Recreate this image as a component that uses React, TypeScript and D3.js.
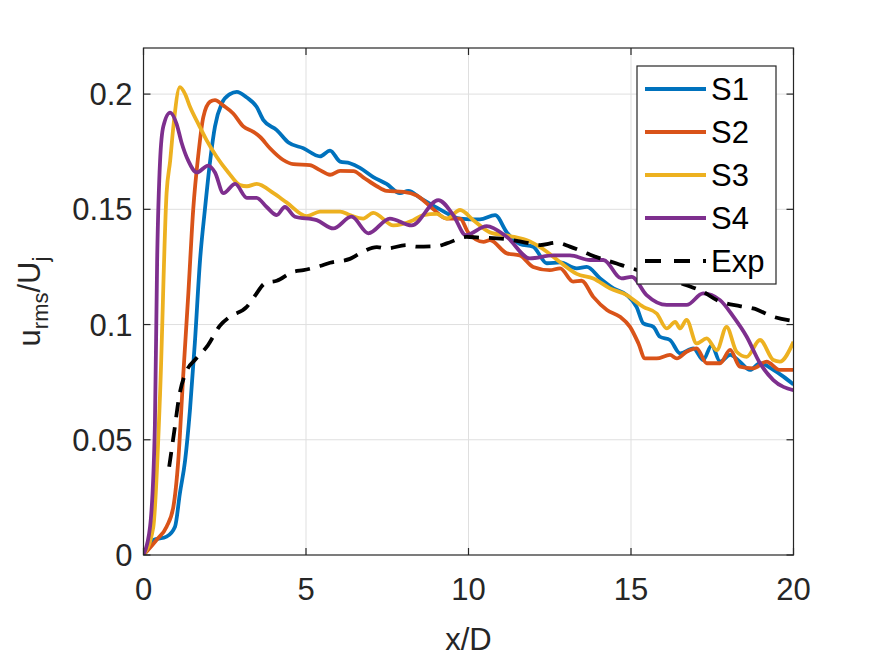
import * as d3 from 'd3';

const s1X = [0, 0.3, 0.71, 0.97, 1.12, 1.28, 1.43, 1.58, 1.74, 1.89, 2.05, 2.2, 2.41, 2.66, 2.87, 3.18, 3.48, 3.69, 4.1, 4.46, 4.92, 5.43, 5.74, 6.05, 6.35, 6.66, 7.07, 7.48, 7.89, 8.15, 8.51, 9.12, 9.74, 10.35, 10.82, 11.18, 11.58, 11.99, 12.41, 12.82, 13.33, 13.64, 14.05, 14.46, 14.87, 15.17, 15.38, 15.69, 15.89, 16.2, 16.51, 16.92, 17.22, 17.48, 17.74, 18.05, 18.35, 18.66, 18.97, 19.38, 19.69, 20];
const s1Y = [0, 0.0065, 0.008, 0.0123, 0.0268, 0.041, 0.063, 0.092, 0.128, 0.15, 0.171, 0.186, 0.196, 0.2, 0.201, 0.1985, 0.1945, 0.1887, 0.1844, 0.179, 0.1765, 0.173, 0.1755, 0.1707, 0.17, 0.168, 0.164, 0.161, 0.157, 0.158, 0.155, 0.15, 0.146, 0.1456, 0.1475, 0.14, 0.135, 0.1338, 0.1266, 0.127, 0.1244, 0.125, 0.12, 0.1157, 0.1128, 0.1077, 0.1005, 0.099, 0.0947, 0.0933, 0.0875, 0.0897, 0.0846, 0.091, 0.0839, 0.0868, 0.0839, 0.0803, 0.0832, 0.0803, 0.0774, 0.074];

const s2X = [0, 0.4, 0.71, 0.92, 1.07, 1.22, 1.38, 1.53, 1.69, 1.84, 2.05, 2.2, 2.46, 2.76, 3.07, 3.38, 3.58, 3.89, 4.3, 4.61, 5.12, 5.43, 5.74, 6.05, 6.46, 6.76, 7.18, 7.48, 8.0, 8.41, 8.92, 9.33, 9.74, 9.99, 10.46, 10.66, 11.18, 11.58, 11.99, 12.5, 12.82, 13.22, 13.48, 13.84, 14.26, 14.66, 14.97, 15.23, 15.43, 15.79, 16.2, 16.41, 16.71, 17.02, 17.33, 17.74, 18.05, 18.35, 18.76, 19.17, 19.58, 20];
const s2Y = [0, 0.0065, 0.0123, 0.021, 0.041, 0.0774, 0.1135, 0.15, 0.174, 0.19, 0.1967, 0.1974, 0.195, 0.1916, 0.186, 0.1836, 0.1815, 0.1765, 0.1714, 0.1696, 0.1692, 0.167, 0.165, 0.1667, 0.1666, 0.1639, 0.16, 0.158, 0.1576, 0.156, 0.15, 0.146, 0.146, 0.14, 0.1359, 0.1366, 0.1309, 0.13, 0.125, 0.1236, 0.1244, 0.1186, 0.119, 0.112, 0.1063, 0.1034, 0.099, 0.0918, 0.0853, 0.0853, 0.0868, 0.0853, 0.0882, 0.0897, 0.0832, 0.0832, 0.089, 0.0817, 0.081, 0.0839, 0.0803, 0.0803];

const s3X = [0, 0.3, 0.51, 0.71, 0.82, 0.92, 1.12, 1.28, 1.43, 1.69, 1.94, 2.25, 2.61, 2.97, 3.18, 3.48, 4.0, 4.4, 5.02, 5.43, 6.05, 6.35, 6.76, 7.07, 7.69, 8.3, 8.61, 9.02, 9.33, 9.74, 10.15, 10.66, 11.28, 11.89, 12.41, 12.82, 13.33, 13.84, 14.35, 14.87, 15.38, 15.79, 16.1, 16.36, 16.51, 16.71, 17.02, 17.33, 17.64, 17.94, 18.25, 18.56, 18.97, 19.38, 19.58, 20];
const s3Y = [0, 0.012, 0.07, 0.157, 0.171, 0.186, 0.203, 0.2, 0.1945, 0.187, 0.18, 0.1728, 0.166, 0.1605, 0.16, 0.161, 0.157, 0.153, 0.147, 0.149, 0.149, 0.1475, 0.146, 0.1485, 0.143, 0.1453, 0.1475, 0.148, 0.146, 0.1497, 0.1453, 0.14, 0.1384, 0.136, 0.1316, 0.127, 0.122, 0.12, 0.1157, 0.1128, 0.1077, 0.1048, 0.0983, 0.1012, 0.0983, 0.102, 0.0918, 0.094, 0.0889, 0.099, 0.0882, 0.086, 0.0933, 0.0846, 0.0839, 0.0925];

const s4X = [0, 0.2, 0.35, 0.42, 0.51, 0.61, 0.82, 1.02, 1.17, 1.38, 1.64, 1.99, 2.2, 2.46, 2.82, 3.18, 3.48, 3.79, 4.1, 4.35, 4.66, 5.33, 5.84, 6.4, 6.92, 7.58, 8.25, 9.07, 9.53, 9.92, 10.56, 11.18, 11.89, 12.61, 13.12, 13.74, 14.15, 14.71, 15.02, 15.48, 16.1, 16.71, 17.22, 17.74, 18.15, 18.56, 18.97, 19.38, 20];
const s4Y = [0, 0.012, 0.056, 0.128, 0.171, 0.186, 0.192, 0.187, 0.179, 0.171, 0.166, 0.169, 0.166, 0.157, 0.161, 0.155, 0.155, 0.151, 0.1475, 0.151, 0.1468, 0.1453, 0.1417, 0.1468, 0.1396, 0.146, 0.143, 0.154, 0.1475, 0.1388, 0.1427, 0.138, 0.1287, 0.13, 0.13, 0.128, 0.128, 0.12, 0.1207, 0.1128, 0.1085, 0.1085, 0.1135, 0.1106, 0.1034, 0.0947, 0.0832, 0.0759, 0.0715];

const expX = [0.79, 0.95, 1.1, 1.33, 1.58, 1.98, 2.35, 2.66, 3.18, 3.43, 3.74, 4.1, 4.61, 4.92, 5.43, 5.74, 6.35, 6.66, 7.18, 7.48, 8.1, 8.41, 9.02, 9.33, 9.94, 10.25, 10.87, 11.18, 11.89, 12.2, 12.71, 13.12, 13.64, 14.05, 14.56, 14.87, 15.5, 16.1, 16.71, 17.22, 17.64, 18.35, 18.76, 19.38, 20];
const expY = [0.0383, 0.054, 0.069, 0.08, 0.0846, 0.091, 0.0995, 0.1034, 0.1077, 0.1125, 0.1179, 0.119, 0.1229, 0.1236, 0.1254, 0.1268, 0.1285, 0.1309, 0.1336, 0.133, 0.1345, 0.1338, 0.134, 0.1352, 0.138, 0.1378, 0.1374, 0.137, 0.1352, 0.1345, 0.1355, 0.1338, 0.1309, 0.1287, 0.1265, 0.125, 0.1225, 0.12, 0.1171, 0.1142, 0.1106, 0.108, 0.107, 0.1034, 0.1015];

const xTicks = [0, 5, 10, 15, 20];
const yTicks = [0, 0.05, 0.1, 0.15, 0.2];
const yTickLabels = ['0', '0.05', '0.1', '0.15', '0.2'];

const seriesNames = ['S1', 'S2', 'S3', 'S4', 'Exp'];
const seriesColors = ['#0072BD', '#D95319', '#EDB120', '#7E2F8E', '#000000'];

const W = 875;
const H = 656;
const box = { left: 143.5, right: 793.5, top: 48, bottom: 555 };
const font = '"Liberation Sans", Arial, Helvetica, sans-serif';
const axisColor = '#262626';
const fs = 31;

export default function App() {
  const x = d3.scaleLinear().domain([0, 20]).range([box.left, box.right]);
  const y = d3.scaleLinear().domain([0, 0.22]).range([box.bottom, box.top]);

  const line = d3
    .line<[number, number]>()
    .x((d) => x(d[0]))
    .y((d) => y(d[1]))
    .curve(d3.curveMonotoneX);

  const series = [
    [s1X, s1Y],
    [s2X, s2Y],
    [s3X, s3Y],
    [s4X, s4Y],
    [expX, expY],
  ].map(([xs, ys]) => xs.map((v, i) => [v, ys[i]] as [number, number]));

  const tickLen = 7;
  const legend = { x: 637, y: 66, w: 139, h: 218, row: 43 };

  return (
    <svg
      width={W}
      height={H}
      style={{ position: 'absolute', left: 0, top: 0, background: '#fff' }}
      fontFamily={font}
    >
      <rect x={0} y={0} width={W} height={H} fill="#fff" />
      <defs>
        <clipPath id="plotClip">
          <rect x={box.left} y={box.top} width={box.right - box.left} height={box.bottom - box.top} />
        </clipPath>
      </defs>

      {/* grid */}
      <g stroke="#dfdfdf" strokeWidth={1}>
        {xTicks.slice(1, -1).map((t) => (
          <line key={'gx' + t} x1={x(t)} x2={x(t)} y1={box.top} y2={box.bottom} />
        ))}
        {yTicks.slice(1).map((t) => (
          <line key={'gy' + t} x1={box.left} x2={box.right} y1={y(t)} y2={y(t)} />
        ))}
      </g>

      {/* curves */}
      <g clipPath="url(#plotClip)" fill="none" strokeWidth={3.8} strokeLinejoin="round">
        {series.map((pts, i) => (
          <path
            key={seriesNames[i]}
            d={line(pts) ?? ''}
            stroke={seriesColors[i]}
            strokeDasharray={i === 4 ? '15,10' : undefined}
          />
        ))}
      </g>

      {/* axes box and ticks */}
      <g stroke={axisColor} strokeWidth={1.2}>
        <rect
          x={box.left}
          y={box.top}
          width={box.right - box.left}
          height={box.bottom - box.top}
          fill="none"
        />
        {xTicks.map((t) => (
          <g key={'tx' + t}>
            <line x1={x(t)} x2={x(t)} y1={box.bottom} y2={box.bottom - tickLen} />
            <line x1={x(t)} x2={x(t)} y1={box.top} y2={box.top + tickLen} />
          </g>
        ))}
        {yTicks.map((t) => (
          <g key={'ty' + t}>
            <line x1={box.left} x2={box.left + tickLen} y1={y(t)} y2={y(t)} />
            <line x1={box.right} x2={box.right - tickLen} y1={y(t)} y2={y(t)} />
          </g>
        ))}
      </g>

      {/* tick labels */}
      <g fill={axisColor} fontSize={fs}>
        {xTicks.map((t) => (
          <text key={'lx' + t} x={x(t)} y={box.bottom + 45} textAnchor="middle">
            {t}
          </text>
        ))}
        {yTicks.map((t, i) => (
          <text key={'ly' + t} x={box.left - 11} y={y(t) + 11} textAnchor="end">
            {yTickLabels[i]}
          </text>
        ))}
      </g>

      {/* axis labels */}
      <text x={(box.left + box.right) / 2} y={650} textAnchor="middle" fontSize={fs} fill={axisColor}>
        x/D
      </text>
      <text
        transform={`translate(40,${(box.top + box.bottom) / 2}) rotate(-90)`}
        textAnchor="middle"
        fontSize={fs}
        fill={axisColor}
      >
        u
        <tspan fontSize={22} dy={8}>
          rms
        </tspan>
        <tspan dy={-8}>/U</tspan>
        <tspan fontSize={22} dy={8}>
          j
        </tspan>
      </text>

      {/* legend */}
      <g>
        <rect
          x={legend.x}
          y={legend.y}
          width={legend.w}
          height={legend.h}
          fill="#fff"
          stroke={axisColor}
          strokeWidth={1.2}
        />
        {seriesNames.map((name, i) => {
          const cy = legend.y + 23 + i * legend.row;
          return (
            <g key={'leg' + name}>
              <line
                x1={legend.x + 8}
                x2={legend.x + 69}
                y1={cy}
                y2={cy}
                stroke={seriesColors[i]}
                strokeWidth={3.8}
                strokeDasharray={i === 4 ? '16,13' : undefined}
              />
              <text x={legend.x + 74} y={cy + 11} fontSize={fs} fill="#000">
                {name}
              </text>
            </g>
          );
        })}
      </g>
    </svg>
  );
}
